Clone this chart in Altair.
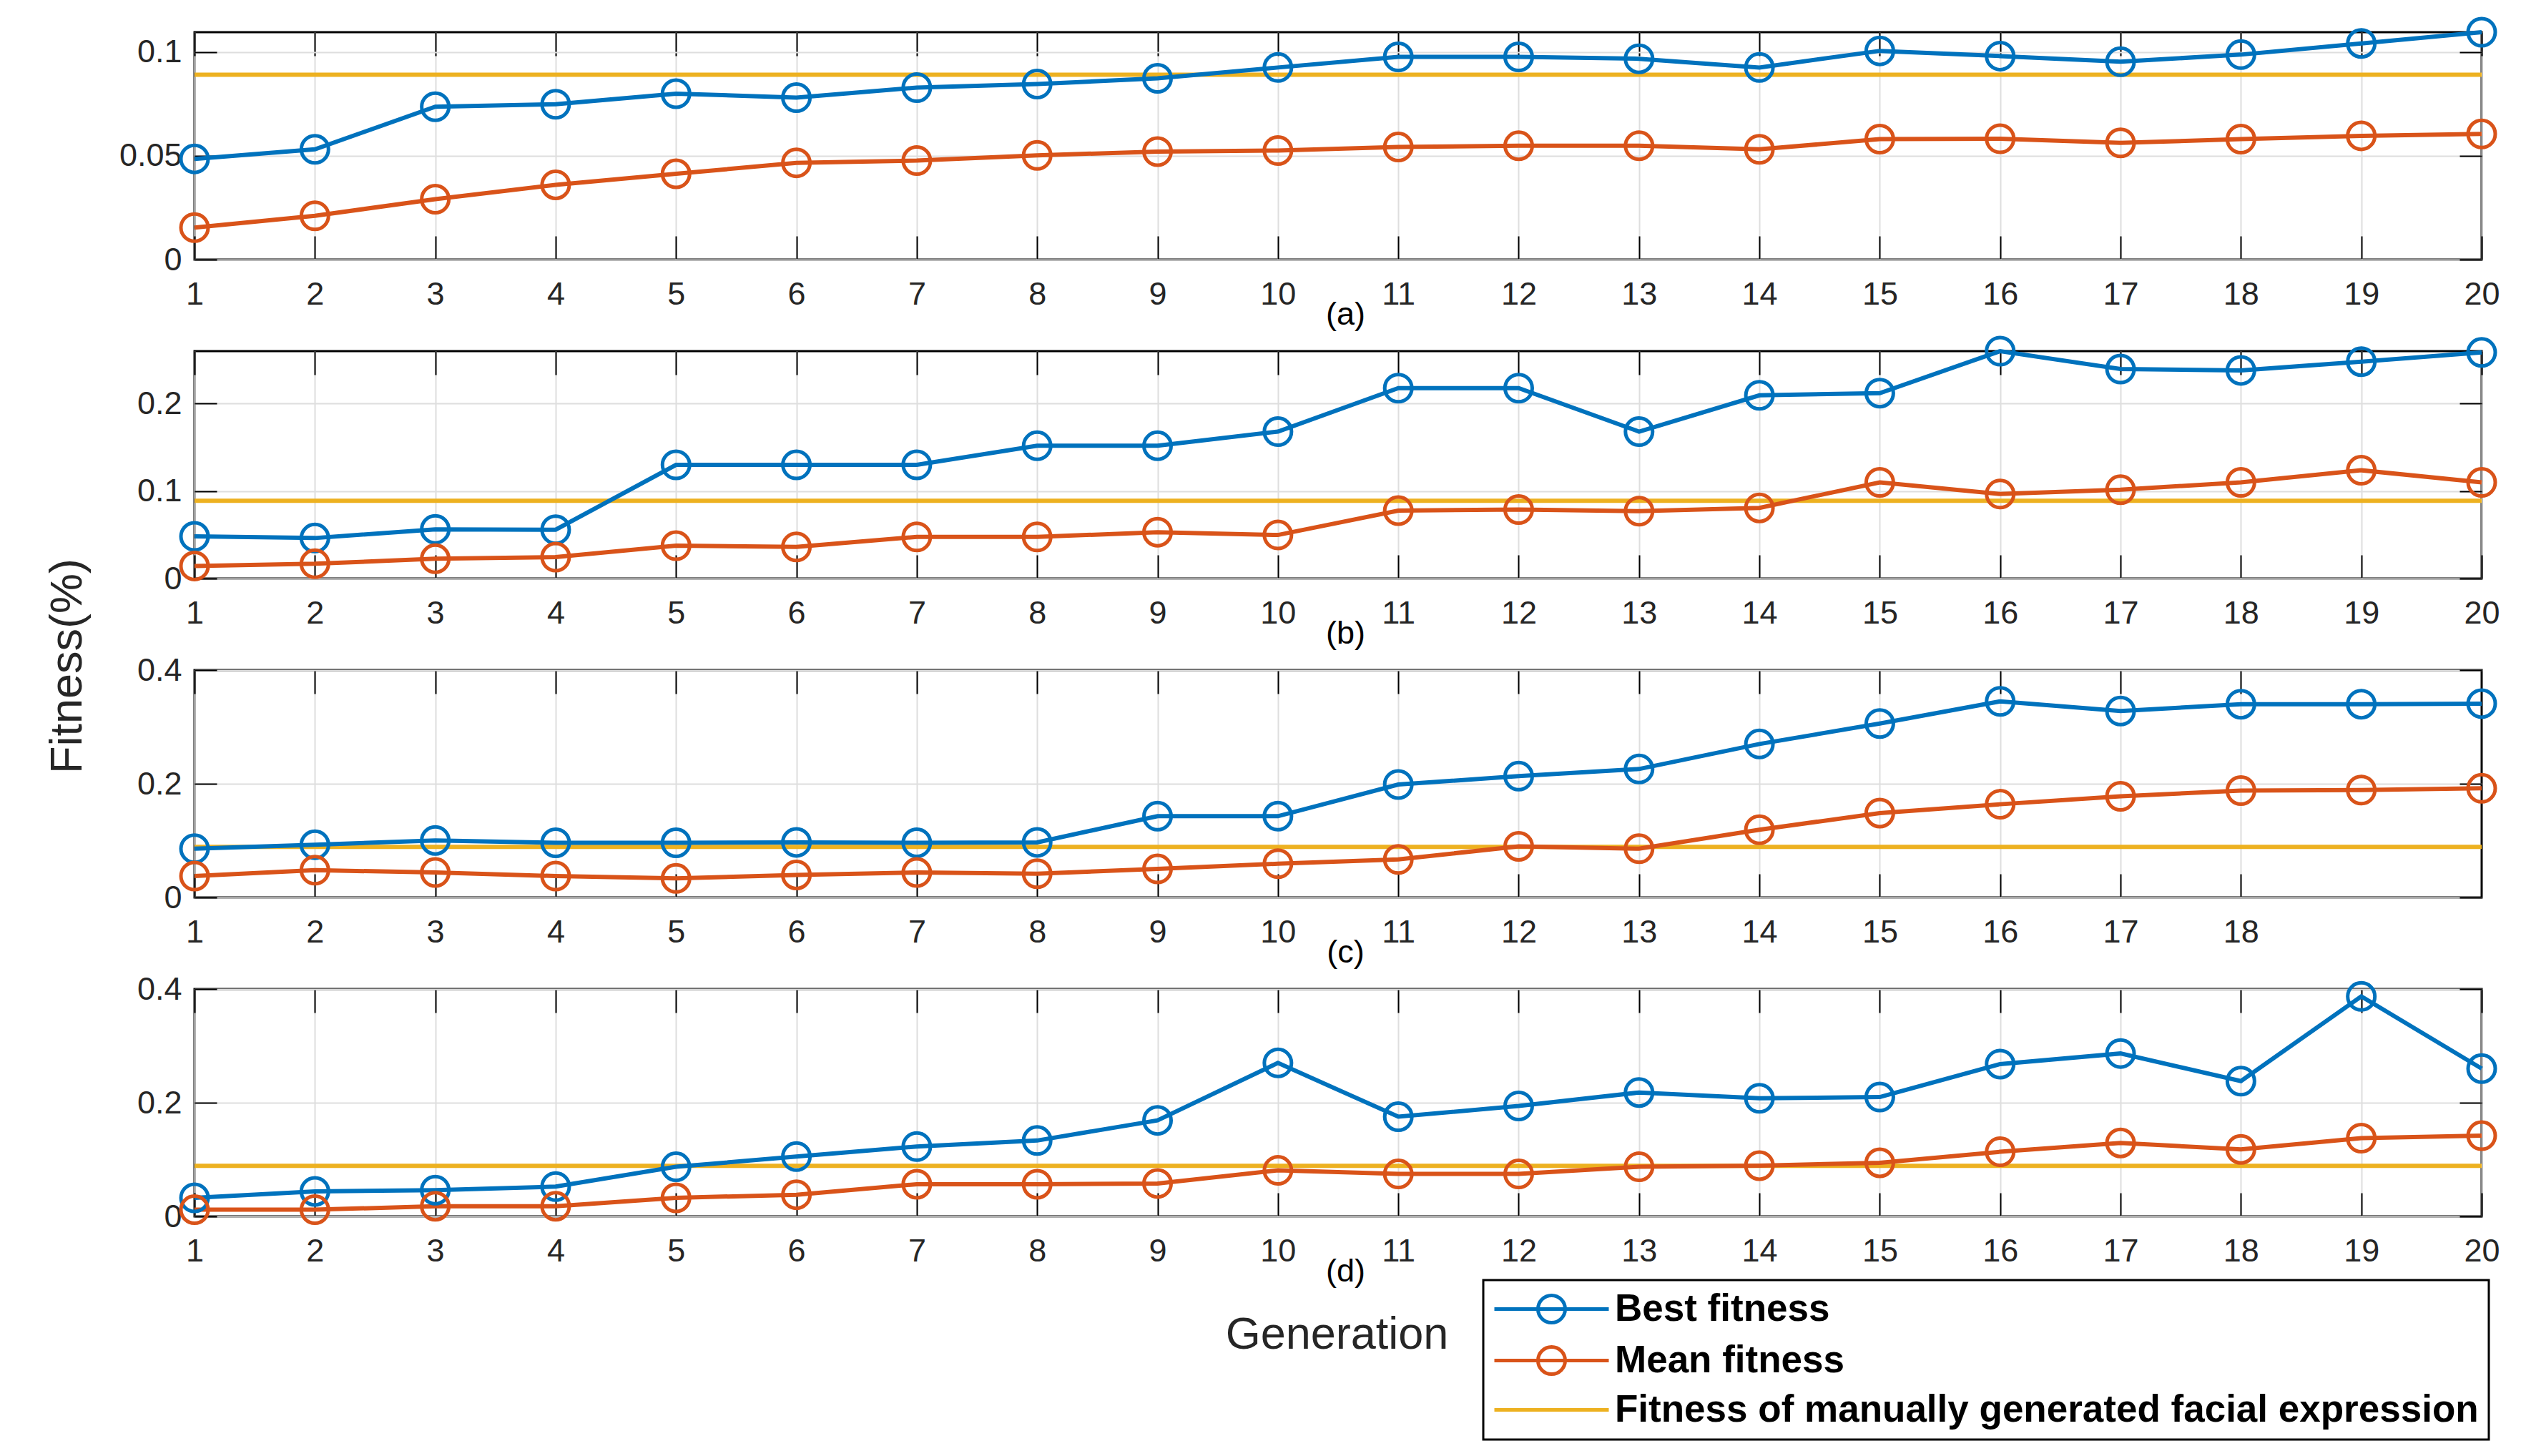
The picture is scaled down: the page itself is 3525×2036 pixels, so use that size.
import altair as alt
import pandas as pd

# ---------------- data ----------------
generations = list(range(1, 21))

a_best = [0.0485, 0.0531, 0.0736, 0.0748, 0.0799, 0.0780, 0.0828, 0.0845, 0.0873, 0.0925,
          0.0976, 0.0976, 0.0967, 0.0925, 0.1005, 0.0980, 0.0953, 0.0987, 0.1041, 0.1095]
a_mean = [0.0154, 0.0211, 0.0291, 0.0360, 0.0413, 0.0466, 0.0477, 0.0502, 0.0520, 0.0525,
          0.0542, 0.0548, 0.0548, 0.0531, 0.0580, 0.0582, 0.0562, 0.0580, 0.0596, 0.0605]
b_best = [0.0482, 0.0463, 0.0563, 0.0558, 0.1300, 0.1300, 0.1300, 0.1518, 0.1518, 0.1680,
          0.2177, 0.2177, 0.1680, 0.2095, 0.2120, 0.2600, 0.2395, 0.2380, 0.2480, 0.2585]
b_mean = [0.0144, 0.0169, 0.0226, 0.0245, 0.0376, 0.0362, 0.0476, 0.0476, 0.0530, 0.0498,
          0.0776, 0.0789, 0.0770, 0.0808, 0.1100, 0.0966, 0.1015, 0.1100, 0.1238, 0.1100]
c_best = [0.0858, 0.0929, 0.1004, 0.0962, 0.0962, 0.0970, 0.0962, 0.0970, 0.1430, 0.1430,
          0.1987, 0.2134, 0.2260, 0.2700, 0.3060, 0.3450, 0.3280, 0.3400, 0.3400, 0.3410]
c_mean = [0.0377, 0.0481, 0.0439, 0.0377, 0.0335, 0.0397, 0.0439, 0.0418, 0.0502, 0.0594,
          0.0670, 0.0900, 0.0858, 0.1192, 0.1485, 0.1640, 0.1780, 0.1880, 0.1890, 0.1920]
d_best = [0.0327, 0.0441, 0.0462, 0.0525, 0.0873, 0.1053, 0.1230, 0.1335, 0.1690, 0.2700,
          0.1754, 0.1943, 0.2180, 0.2078, 0.2100, 0.2680, 0.2866, 0.2380, 0.3870, 0.2600]
d_mean = [0.0118, 0.0118, 0.0180, 0.0180, 0.0327, 0.0382, 0.0567, 0.0567, 0.0580, 0.0810,
          0.0747, 0.0747, 0.0873, 0.0894, 0.0944, 0.1137, 0.1293, 0.1180, 0.1377, 0.1420]
manual_fitness = [0.089, 0.089, 0.089, 0.089]

panel_labels = ["(a)", "(b)", "(c)", "(d)"]
y_domains = [[0, 0.1095], [0, 0.26], [0, 0.4], [0, 0.4]]
y_tick_values = [[0, 0.05, 0.1], [0, 0.1, 0.2], [0, 0.2, 0.4], [0, 0.2, 0.4]]
x_tick_values = [generations, generations, list(range(1, 19)), generations]
series_names = ["Best fitness", "Mean fitness", "Fitness of manually generated facial expression"]
series_colors = ["#0072BD", "#D95319", "#EDB120"]

# ---------------- styling ----------------
W, H = 3198, 318
FONT = "Liberation Sans"
TXT = "#262626"
GRID = "#dedede"

PATH_MARK = "M-4,0L4,0M-0.95,0A0.95,0.95 0 1,0 0.95,0A0.95,0.95 0 1,0 -0.95,0"
PATH_LINE = "M-4,0L4,0"

# scale used by the plotted marks (listed in reverse order so that it is kept
# apart from the legend's own scale, which is listed in legend order)
color_scale = alt.Scale(domain=series_names[::-1], range=series_colors[::-1])
stroke_scale = alt.Scale(domain=series_names, range=series_colors)
shape_scale = alt.Scale(domain=series_names, range=[PATH_MARK, PATH_MARK, PATH_LINE])


def make_panel(i, best, mean):
    df = pd.DataFrame({
        "gen": generations + generations,
        "value": best + mean,
        "series": [series_names[0]] * len(best) + [series_names[1]] * len(mean),
    })
    ref_df = pd.DataFrame({"value": [manual_fitness[i]], "series": [series_names[2]]})

    xs = alt.Scale(domain=[1, 20], nice=False, zero=False)
    ys = alt.Scale(domain=y_domains[i], nice=False, zero=False)

    y_title = dict(title=None)
    if i == 1:
        y_title = dict(title="Fitness(%)", titleX=-178, titleY=440, titleAngle=270,
                       titleBaseline="middle", titleAlign="center", titleFontSize=63,
                       titleFontWeight="normal", titleColor=TXT)

    x_main = alt.Axis(orient="bottom", values=x_tick_values[i], format="d", grid=True,
                      gridColor=GRID, gridWidth=2, ticks=False, domain=False,
                      labelFontSize=45, labelColor=TXT, labelPadding=26, labelFlush=False,
                      labelOverlap=False, title=panel_labels[i], titleX=1609, titleY=76,
                      titleBaseline="middle", titleAlign="center", titleFontSize=45,
                      titleFontWeight="normal", titleColor="#000000")
    y_main = alt.Axis(orient="left", values=y_tick_values[i], format="~g", grid=True,
                      gridColor=GRID, gridWidth=2, ticks=False, domain=False,
                      labelFontSize=45, labelColor=TXT, labelPadding=18, labelFlush=False,
                      labelOverlap=False, **y_title)

    x_title = dict(title=None)
    if i == 3:
        x_title = dict(title="Generation", titleX=1597, titleY=483, titleBaseline="middle",
                       titleAlign="center", titleFontSize=63, titleFontWeight="normal",
                       titleColor=TXT)
    x_tick = alt.Axis(orient="top", values=x_tick_values[i], grid=True, gridColor="#000000",
                      gridWidth=2, gridDash=[33, 252], labels=False, ticks=False,
                      domain=False, **x_title)
    y_tick = alt.Axis(orient="right", values=y_tick_values[i], grid=True, gridColor="#000000",
                      gridWidth=2, gridDash=[31, 3136], labels=False, ticks=False,
                      domain=False, title=None)

    rule = alt.Chart(ref_df).mark_rule(strokeWidth=6).encode(
        y=alt.Y("value:Q", scale=ys, axis=None),
        color=alt.Color("series:N", scale=color_scale, legend=None),
    )
    lines = alt.Chart(df).mark_line(strokeWidth=6).encode(
        x=alt.X("gen:Q", scale=xs, axis=x_main),
        y=alt.Y("value:Q", scale=ys, axis=y_main),
        color=alt.Color("series:N", scale=color_scale, legend=None),
    )
    points = alt.Chart(df).mark_point(shape="circle", filled=False, size=1444,
                                      strokeWidth=5, opacity=1).encode(
        x=alt.X("gen:Q", scale=xs, axis=x_tick),
        y=alt.Y("value:Q", scale=ys, axis=y_tick),
        color=alt.Color("series:N", scale=color_scale, legend=None),
    )
    layers = [rule, lines, points]

    if i == 3:
        leg_df = pd.DataFrame({"gen": [1, 1, 1], "value": [-1, -1, -1], "series": series_names})
        leg = alt.Legend(orient="none", legendX=1802, legendY=407, title=None,
                         labelFontSize=53, labelFontWeight="bold", labelColor="#000000",
                         labelFont=FONT, labelLimit=2000, symbolSize=1600,
                         symbolStrokeWidth=5, symbolOffset=55, labelOffset=62,
                         padding=14, rowPadding=13, strokeColor="#000000",
                         fillColor="#ffffff")
        legend_layer = alt.Chart(leg_df).mark_point(filled=False, clip=True, size=1600,
                                                    strokeWidth=5, opacity=1).encode(
            x=alt.X("gen:Q", scale=xs, axis=None),
            y=alt.Y("value:Q", scale=ys, axis=None),
            stroke=alt.Stroke("series:N", scale=stroke_scale, legend=leg),
            shape=alt.Shape("series:N", scale=shape_scale, legend=leg),
        )
        layers.append(legend_layer)

    return alt.layer(*layers).resolve_axis(x="independent", y="independent").properties(
        width=W, height=H)


panels = [
    make_panel(0, a_best, a_mean),
    make_panel(1, b_best, b_mean),
    make_panel(2, c_best, c_mean),
    make_panel(3, d_best, d_mean),
]

chart = alt.vconcat(*panels, spacing=128, bounds="flush").resolve_scale(
    color="independent", stroke="independent", shape="independent"
).resolve_legend(
    color="independent", stroke="independent", shape="independent"
).properties(
    padding={"left": 53, "top": 6, "right": 0, "bottom": 0},
    background="#ffffff",
).configure(font=FONT).configure_view(
    stroke="#000000", strokeWidth=3
).configure_axis(
    labelFont=FONT, titleFont=FONT
).configure_legend(
    strokeWidth=3
)

chart.save("out.html", embed_options={"renderer": "svg", "actions": False})
